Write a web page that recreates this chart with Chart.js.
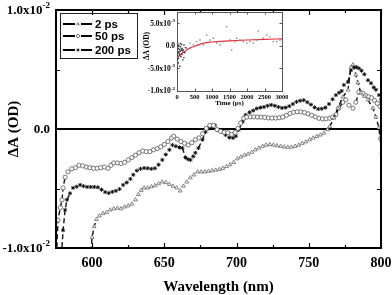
<!DOCTYPE html>
<html>
<head>
<meta charset="utf-8">
<script src="https://cdn.jsdelivr.net/npm/chart.js@4.4.0/dist/chart.umd.min.js"></script>
<style>
  html, body { margin: 0; padding: 0; background: #fff; }
  #wrap { position: relative; width: 392px; height: 295px; overflow: hidden; }
  #main { position: absolute; left: 0; top: 0; }
  #inset { position: absolute; left: 128px; top: 2px; }
</style>
</head>
<body>
<div id="wrap">
  <canvas id="main" width="392" height="295"></canvas>
  <canvas id="inset" width="160" height="108"></canvas>
</div>
<script>
// Transient spectra, values in units of 1e-3 OD (mOD)

// 2 ps (open triangles)
const wl2ps = [599.2,600.0,601.4,603.0,605.0,607.5,610,612.5,615,617.5,620,622.5,625,627.5,630,632,634,636,638.5,641,
  643.5,646,648.5,651,653.5,656,658.5,661,663.2,665.5,668,670.5,673,675.5,678,680.5,683,685.5,688,690.5,
  693,695.5,698,700.5,703,705.5,708,710.5,713,715.5,718,720.5,723,725.5,728,730.5,733,735.5,738,740.5,
  743,745.5,748,750.5,753,755.5,758,760.5,763,764.5,767.4,770.1,773.6,777.1,779.2,780.6,782.6,784.0,786.1,788.5,
  791.0,794.4,796.5,798.6,799.3,800.5];
const dA2ps = [-10.3,-9.1,-8.2,-7.6,-7.3,-7.1,-7.0,-6.8,-6.7,-6.65,-6.7,-6.55,-6.45,-6.3,-5.95,-5.5,-5.15,-4.95,-4.95,-4.85,
  -4.75,-4.6,-4.45,-4.5,-4.65,-4.8,-4.95,-5.2,-4.8,-4.45,-4.1,-3.85,-3.6,-3.6,-3.6,-3.55,-3.5,-3.45,-3.4,-3.3,
  -3.15,-3.0,-2.8,-2.5,-2.35,-2.2,-2.1,-1.95,-1.75,-1.6,-1.45,-1.35,-1.3,-1.35,-1.4,-1.45,-1.5,-1.52,-1.52,-1.45,
  -1.35,-1.2,-1.08,-0.9,-0.75,-0.62,-0.5,-0.34,-0.05,0.2,0.92,1.76,2.69,3.28,5.2,5.4,4.55,3.9,3.05,2.75,
  2.45,1.75,1.0,0.1,-0.75,-2.0];

// 50 ps (open circles)
const wl50ps = [575.3,576.4,578,579.2,579.9,581.3,583.3,586,588.5,591,593.5,596,598.5,601,603.5,606,608.5,611,613,615,
  617.5,620,622.5,625,627.5,630,632.5,635,637.5,640,642.5,645,647.5,650,652.5,655,656.5,659,661.5,664,
  666.5,669,671.5,674,676.5,679,681.5,684,686.5,689,691.5,694,696.5,699,701,702.8,704.9,707,709.5,712,
  714.5,717,719.5,722,724.5,727,729.5,732,734.5,737,739.5,742,744.5,747,749.5,752,754.5,757,759.5,762,
  764.5,766.5,768.8,770.8,773.6,775.7,777.8,780.6,782.6,784.7,787.5,789.5,791.5,793.5,795.5,797.5,799.3];
const dA50ps = [-10.6,-7.65,-6.6,-5.95,-4.95,-4.05,-3.6,-3.35,-3.25,-3.05,-3.1,-3.2,-3.25,-3.3,-3.3,-3.25,-3.2,-3.3,-3.05,-2.85,
  -2.85,-2.9,-2.8,-2.6,-2.4,-2.2,-2.0,-1.85,-1.9,-1.9,-1.75,-1.65,-1.5,-1.3,-1.05,-0.75,-0.6,-0.85,-1.05,-1.2,
  -1.35,-1.15,-0.9,-0.75,-0.4,0.05,0.3,0.3,-0.05,-0.2,-0.28,-0.32,-0.45,-0.3,0.05,0.5,0.9,1.0,1.02,1.02,
  1.0,1.0,0.97,0.93,0.92,0.92,0.95,1.0,1.15,1.3,1.4,1.45,1.44,1.38,1.28,1.15,1.02,0.9,0.85,0.85,
  0.9,1.0,1.2,1.75,2.25,2.45,2.0,1.75,2.25,3.1,3.0,2.8,2.7,2.62,2.4,2.15,1.9];

// 200 ps (stars)
const wl200ps = [578.8,579.9,581.3,582.6,584.7,586.8,589.3,591.7,594,596.5,599,601.5,604,606.5,609,611.5,614,616.5,619,621.5,
  624,626.5,628.5,631,633.5,636,638.5,641,643.5,646,648.6,651,653.5,655.6,658,660.5,662.5,664.6,666.5,668.1,
  670,671.5,673.6,676.4,678.5,680.5,682.5,685,687.5,690,692.4,695,697.5,699.5,701.4,704.2,706.3,709,711.5,714,
  716.5,719,721.5,724,726.5,729,731.5,734,736.5,739,741.5,744,746.5,749,751.5,754,756.5,759,761.5,764,
  766.5,768.8,771,772.8,774.3,777.1,779.2,781.3,783,784.7,786.5,788.5,791,793.1,795,796.5,798.6,800];
const dA200ps = [-10.6,-8.5,-6.8,-5.95,-5.4,-4.95,-4.85,-4.7,-4.8,-4.87,-4.87,-4.87,-4.9,-5.1,-5.3,-5.38,-5.28,-5.2,-5.05,-4.7,
  -4.5,-4.2,-3.85,-3.5,-3.35,-3.28,-3.3,-3.35,-3.3,-3.0,-2.6,-2.15,-1.75,-1.35,-1.45,-1.55,-1.6,-2.4,-2.55,-2.6,
  -2.3,-2.0,-1.6,-0.9,-0.25,0.05,0.2,0.32,-0.08,-0.25,-0.5,-0.72,-0.75,-0.6,-0.08,0.6,1.18,1.4,1.55,1.72,
  1.8,1.85,1.95,2.02,1.95,1.85,1.77,1.8,1.92,2.1,2.28,2.38,2.42,2.25,2.05,1.82,1.68,1.7,1.8,2.1,
  2.5,2.85,3.05,3.2,3.7,3.95,4.95,5.2,5.2,5.1,4.9,4.6,4.1,3.85,3.5,3.3,2.85,2.45];

const seriesNames = ['2 ps', '50 ps', '200 ps'];

// main axis ticks
const xMajorTicks = [600, 650, 700, 750, 800];
const xMinorTicks = [575, 625, 675, 725, 775];
const yTicks = [-10, 0, 10];
const yTickLabels = [['-1.0x10', '-2'], ['0.0', ''], ['1.0x10', '-2']];
const yMinorTicks = [-5, 5];

// inset: kinetic trace (time in ps, mOD)
const fitTime = [0, 100, 200, 300, 400, 500, 700, 1000, 1500, 2000, 2500, 3000];
const fitDA = [-2.7, -1.9, -1.3, -0.8, -0.4, -0.1, 0.5, 0.85, 1.1, 1.3, 1.45, 1.55];
const earlyTime = [10,15,20,25,30,35,40,45,50,55,60,70,75,80,90,95,100,110,120,125,130,140,150,160,165,180,195,200,220,240];
const earlyDA = [-1.0,-0.3,-2.2,0.4,-1.4,-3.8,-0.6,-2.8,0.1,-1.3,-1.7,-0.8,-2.0,-4.5,-1.2,0.5,-0.2,-2.4,-1.0,-0.7,
  0.3,-1.9,-0.6,-1.1,-3.1,-0.9,-2.6,0.2,-1.5,-0.4];
const lateTime = [276,371,467,562,657,752,848,943,1038,1133,1229,1324,1419,1514,1562,1657,1705,1800,1895,1991,
  2086,2181,2276,2324,2467,2562,2657,2752,2848,2943];
const lateDA = [-0.5,0.6,0.2,0.95,1.3,0.2,2.4,1.3,1.7,0.6,0.2,0.95,4.25,1.3,-0.9,0.95,1.7,1.3,0.95,0.6,
  0.95,0.6,1.3,3.3,1.7,2.4,2.05,0.95,0.95,1.3];
const insetXTicks = [0, 500, 1000, 1500, 2000, 2500, 3000];
const insetYTicks = [-10, -5, 0, 5];
const insetYTickLabels = [['-1.0x10', '-2'], ['-5.0x10', '-3'], ['0.0', ''], ['5.0x10', '-3']];

const SERIF = '"Liberation Serif", "Times New Roman", serif';
const SANS = '"Liberation Sans", Arial, sans-serif';

function pts(xs, ys) {
  return xs.map((x, i) => ({ x: x, y: ys[i] }));
}

// only show the connecting line where points are far apart (steep parts)
const gapLine = {
  borderColor: c => Math.hypot(c.p1.x - c.p0.x, c.p1.y - c.p0.y) > 7 ? '#111' : 'rgba(0,0,0,0)'
};

const markers = [
  { pointStyle: 'triangle', radius: 2.2, color: '#666', fill: '#fff', width: 0.8 },
  { pointStyle: 'circle', radius: 2.1, color: '#555', fill: '#fff', width: 0.8 },
  { pointStyle: 'star', radius: 2.0, color: '#111', fill: '#111', width: 1.0 }
];

function spectrum(xs, ys, m) {
  return {
    data: pts(xs, ys),
    showLine: true,
    borderColor: '#111',
    borderWidth: 1.4,
    borderDash: [5, 3],
    segment: gapLine,
    pointStyle: m.pointStyle,
    pointRadius: m.radius,
    pointBorderColor: m.color,
    pointBackgroundColor: m.fill,
    pointBorderWidth: m.width,
    tension: 0
  };
}

// label with superscript exponent, right aligned at xr
function powLabel(ctx, parts, xr, y, size, supSize) {
  const mainFont = 'bold ' + size + 'px ' + SERIF;
  const supFont = 'bold ' + supSize + 'px ' + SERIF;
  ctx.font = supFont;
  const ws = parts[1] ? ctx.measureText(parts[1]).width : 0;
  ctx.font = mainFont;
  const wm = ctx.measureText(parts[0]).width;
  ctx.textAlign = 'left';
  ctx.textBaseline = 'middle';
  ctx.fillText(parts[0], xr - ws - wm, y);
  if (parts[1]) {
    ctx.font = supFont;
    ctx.fillText(parts[1], xr - ws, y - size * 0.42);
  }
}

function ticksX(ctx, a, scale, vals, len) {
  vals.forEach(v => {
    const px = Math.round(scale.getPixelForValue(v)) + 0.5;
    ctx.beginPath();
    ctx.moveTo(px, a.bottom); ctx.lineTo(px, a.bottom - len);
    ctx.moveTo(px, a.top); ctx.lineTo(px, a.top + len);
    ctx.stroke();
  });
}

function ticksY(ctx, a, scale, vals, len) {
  vals.forEach(v => {
    const py = Math.round(scale.getPixelForValue(v)) + 0.5;
    ctx.beginPath();
    ctx.moveTo(a.left, py); ctx.lineTo(a.left + len, py);
    ctx.moveTo(a.right, py); ctx.lineTo(a.right - len, py);
    ctx.stroke();
  });
}

const mainDecor = {
  id: 'mainDecor',
  beforeDatasetsDraw(chart) {
    const { ctx, chartArea: a, scales: { y } } = chart;
    const y0 = y.getPixelForValue(0);
    ctx.save();
    ctx.strokeStyle = '#000';
    ctx.lineWidth = 2;
    ctx.beginPath();
    ctx.moveTo(a.left, y0); ctx.lineTo(a.right, y0);
    ctx.stroke();
    ctx.restore();
  },
  afterDraw(chart) {
    const { ctx, chartArea: a, scales: { x, y } } = chart;
    ctx.save();
    ctx.strokeStyle = '#000';
    ctx.lineWidth = 2;
    ctx.strokeRect(a.left, a.top, a.right - a.left, a.bottom - a.top);
    ctx.lineWidth = 1.2;
    ticksX(ctx, a, x, xMajorTicks, 5);
    ticksX(ctx, a, x, xMinorTicks, 3);
    ticksY(ctx, a, y, yTicks, 5);
    ticksY(ctx, a, y, yMinorTicks, 4);

    ctx.fillStyle = '#000';
    // x tick labels
    ctx.font = 'bold 14px ' + SERIF;
    ctx.textAlign = 'center';
    ctx.textBaseline = 'middle';
    xMajorTicks.forEach(v => ctx.fillText(String(v), x.getPixelForValue(v), 263));
    // y tick labels
    yTicks.forEach((v, i) => powLabel(ctx, yTickLabels[i], 50, y.getPixelForValue(v) + 1, 13, 9));

    // axis titles
    ctx.font = 'bold 15px ' + SERIF;
    ctx.textAlign = 'center';
    ctx.textBaseline = 'middle';
    ctx.fillText('Wavelength (nm)', (a.left + a.right) / 2, 287);
    ctx.save();
    ctx.translate(14, (a.top + a.bottom) / 2);
    ctx.rotate(-Math.PI / 2);
    ctx.fillText('\u0394A (OD)', 0, 0);
    ctx.restore();

    // legend
    ctx.lineWidth = 1;
    ctx.strokeStyle = '#222';
    ctx.strokeRect(60.5, 13.5, 77, 45);
    const rows = [24, 36, 50];
    rows.forEach((ry, i) => {
      const m = markers[i];
      ctx.strokeStyle = '#000';
      ctx.lineWidth = 1.8;
      ctx.beginPath();
      ctx.moveTo(63, ry); ctx.lineTo(75, ry);
      ctx.moveTo(81, ry); ctx.lineTo(92, ry);
      ctx.stroke();
      ctx.strokeStyle = m.color;
      ctx.fillStyle = m.fill;
      ctx.lineWidth = 0.8;
      Chart.helpers.drawPoint(ctx, { pointStyle: m.pointStyle, radius: 1.6, rotation: 0, borderWidth: 0.8 }, 78, ry);
      ctx.fillStyle = '#000';
      ctx.font = 'bold 11.5px ' + SANS;
      ctx.textAlign = 'left';
      ctx.textBaseline = 'middle';
      ctx.fillText(seriesNames[i], 95, ry + 0.5);
    });
    ctx.restore();
  }
};

new Chart(document.getElementById('main'), {
  type: 'scatter',
  data: {
    datasets: [
      spectrum(wl2ps, dA2ps, markers[0]),
      spectrum(wl50ps, dA50ps, markers[1]),
      spectrum(wl200ps, dA200ps, markers[2])
    ]
  },
  options: {
    responsive: false,
    animation: false,
    devicePixelRatio: 1,
    layout: { padding: { left: 56, right: 11, top: 10, bottom: 47 } },
    plugins: { legend: { display: false }, tooltip: { enabled: false } },
    scales: {
      x: { type: 'linear', min: 575, max: 800, display: false },
      y: { type: 'linear', min: -10, max: 10, display: false }
    }
  },
  plugins: [mainDecor]
});

const insetDecor = {
  id: 'insetDecor',
  beforeDraw(chart) {
    const { ctx, chartArea: a } = chart;
    ctx.save();
    ctx.fillStyle = '#fff';
    ctx.fillRect(a.left, a.top, a.right - a.left, a.bottom - a.top);
    ctx.restore();
  },
  afterDraw(chart) {
    const { ctx, chartArea: a, scales: { x, y } } = chart;
    ctx.save();
    ctx.strokeStyle = '#555';
    ctx.lineWidth = 1;
    ctx.strokeRect(a.left + 0.5, a.top + 0.5, a.right - a.left, a.bottom - a.top);
    ticksX(ctx, a, x, insetXTicks, 2.5);
    ticksY(ctx, a, y, insetYTicks, 2.5);
    ctx.fillStyle = '#000';
    ctx.font = 'bold 6.5px ' + SERIF;
    ctx.textAlign = 'center';
    ctx.textBaseline = 'middle';
    insetXTicks.forEach(v => ctx.fillText(String(v), x.getPixelForValue(v), 95));
    insetYTicks.forEach((v, i) => powLabel(ctx, insetYTickLabels[i], 47, y.getPixelForValue(v) + 0.5, 7.5, 5));
    ctx.font = 'bold 7px ' + SERIF;
    ctx.textAlign = 'center';
    ctx.fillText('Time (ps)', (a.left + a.right) / 2, 101.5);
    ctx.save();
    ctx.translate(19, 44);
    ctx.rotate(-Math.PI / 2);
    ctx.font = 'bold 7.5px ' + SERIF;
    ctx.fillText('\u0394A (OD)', 0, 0);
    ctx.restore();
    ctx.restore();
  }
};

new Chart(document.getElementById('inset'), {
  type: 'scatter',
  data: {
    datasets: [
      {
        data: pts(lateTime, lateDA),
        pointStyle: 'rect', pointRadius: 1, pointBorderWidth: 0,
        pointBackgroundColor: '#888'
      },
      {
        data: pts(earlyTime, earlyDA),
        pointStyle: 'rect', pointRadius: 1, pointBorderWidth: 0,
        pointBackgroundColor: '#333'
      },
      {
        data: pts(fitTime, fitDA),
        showLine: true, borderColor: '#e8333a', borderWidth: 1.2,
        pointRadius: 0, tension: 0.4, cubicInterpolationMode: 'monotone'
      }
    ]
  },
  options: {
    responsive: false,
    animation: false,
    devicePixelRatio: 1,
    layout: { padding: { left: 49, right: 6, top: 10, bottom: 19 } },
    plugins: { legend: { display: false }, tooltip: { enabled: false } },
    scales: {
      x: { type: 'linear', min: 0, max: 3000, display: false },
      y: { type: 'linear', min: -10, max: 7.5, display: false }
    }
  },
  plugins: [insetDecor]
});
</script>
</body>
</html>
